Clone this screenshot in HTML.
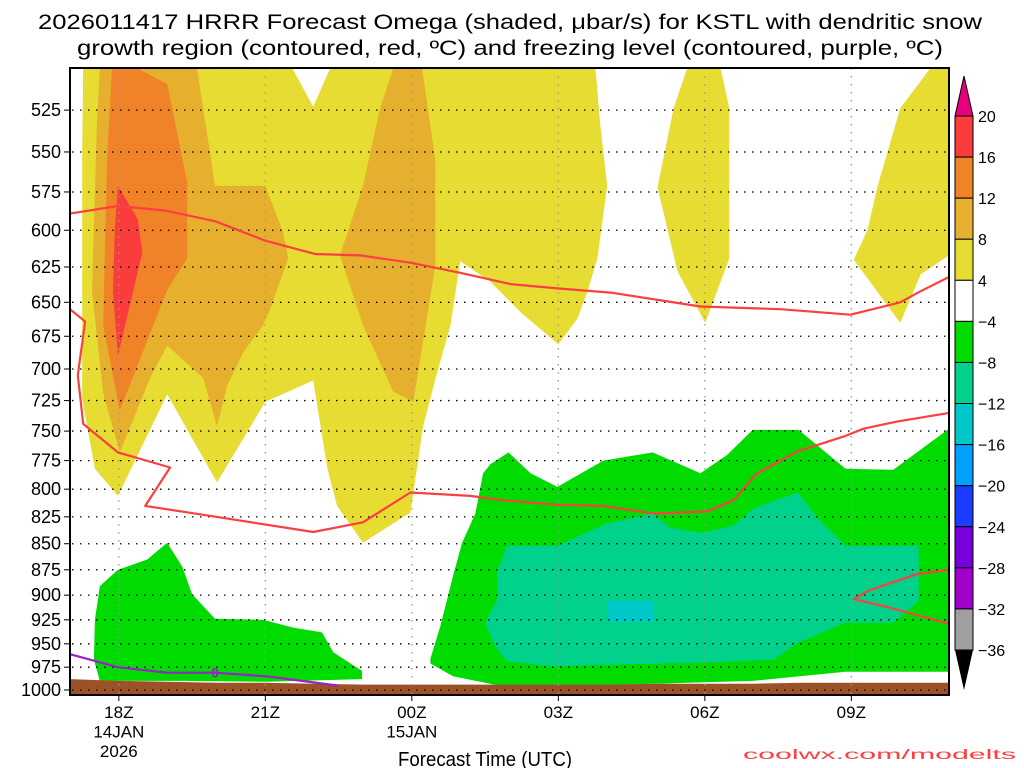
<!DOCTYPE html>
<html><head><meta charset="utf-8"><style>
html,body{margin:0;padding:0;background:#fff;width:1024px;height:768px;overflow:hidden}
svg{display:block;font-family:"Liberation Sans",sans-serif}
</style></head><body>
<svg id="chart" width="1024" height="768" viewBox="0 0 1024 768" xmlns="http://www.w3.org/2000/svg">
<g id="title">
<text x="510" y="29" text-anchor="middle" font-size="21" textLength="944" lengthAdjust="spacingAndGlyphs">2026011417 HRRR Forecast Omega (shaded, μbar/s) for KSTL with dendritic snow</text>
<text x="510" y="55" text-anchor="middle" font-size="21" textLength="866" lengthAdjust="spacingAndGlyphs">growth region (contoured, red, ºC) and freezing level (contoured, purple, ºC)</text>
</g>
<g id="fills"></g><g id="grid"></g><g id="lines"></g><g id="axes"></g><g id="cbar"></g>
<text x="485" y="766" text-anchor="middle" font-size="20" textLength="174" lengthAdjust="spacingAndGlyphs">Forecast Time (UTC)</text>
<text x="1016" y="759" text-anchor="end" font-size="14" fill="#ff4040" textLength="273" lengthAdjust="spacingAndGlyphs">coolwx.com/modelts</text>
</svg>
<script>
const NS="http://www.w3.org/2000/svg";
const H0=17,H1=35,X0=70,X1=949,Y0=68,Y1=695,P0=501,P1=1005.6;
const levels=[525,550,575,600,625,650,675,700,725,750,775,800,825,850,875,900,925,950,975,1000];
const xTickHours=[18,21,24,27,30,33];
const xTickLabels=[["18Z","14JAN","2026"],["21Z"],["00Z","15JAN"],["03Z"],["06Z"],["09Z"]];
const cbarLabels=["20","16","12","8","4","−4","−8","−12","−16","−20","−24","−28","−32","−36"];
const cbarColors=["#fa3c3c","#f08228","#e6af2d","#e6dc32","#ffffff","#00dc00","#00d28c","#00c8c8","#00a0ff","#1e3cff","#7800dc","#a000c8","#a0a0a0"];
// shaded omega regions: [hour, pressure]
const yellowMain=[[17.27,500],[21.55,500],[21.98,523],[22.33,500],[27.76,500],[27.86,534],[28.0,571],[27.8,619],[27.6,642],[27.39,662],[27.0,681],[26.22,657],[25.6,635],[24.99,621],[24.79,667],[24.48,708],[24.23,746],[23.97,821],[23.0,849],[22.47,815],[22.27,782],[21.98,709],[21.0,726],[20.01,794],[18.99,720],[17.98,806],[17.51,782],[17.25,724],[17.25,548]];
const yellow06=[[29.64,500],[30.32,500],[30.5,524],[30.5,619],[30.01,665],[29.44,628],[29.03,572],[29.36,524]];
const yellowRight=[[34.62,500],[35,500],[35,617],[34.42,630],[34.0,665],[33.05,620],[33.33,600],[33.54,571],[34.0,524]];
const lorangeLeft=[[17.61,500],[19.6,500],[19.97,571],[21.0,571],[21.36,601],[21.47,619],[21.1,655],[20.95,667],[20.55,687],[20.22,713],[20.01,746],[19.73,707],[18.99,682],[18.64,707],[18.02,768],[17.68,719],[17.45,642],[17.55,534]];
const lorange00=[[23.62,500],[24.21,500],[24.48,555],[24.48,624],[24.03,726],[23.62,718],[23.0,667],[22.53,617],[23.0,571],[23.35,524]];
const orangeCore=[[17.86,500],[18.37,500],[18.99,510],[19.4,569],[19.4,619],[18.99,641],[18.02,733],[17.68,667],[17.76,555]];
const redCore=[[17.98,571],[18.39,593],[18.48,615],[17.98,690],[17.88,642],[17.92,598]];
const greenLeft=[[17.51,925],[17.61,891],[17.98,875],[18.58,865],[18.99,849],[19.3,872],[19.5,899],[19.97,924],[20.95,925],[21.57,933],[22.16,938],[22.39,959],[22.98,979],[22.98,988],[21.04,991],[19.32,990],[17.61,990],[17.49,967]];
const greenRight=[[24.38,966],[24.58,932],[24.85,880],[25.03,849],[25.3,822],[25.46,786],[25.61,778],[25.98,768],[26.43,786],[26.98,798],[27.92,775],[28.93,768],[29.91,786],[30.46,770],[30.98,749],[31.92,749],[32.88,782],[33.86,783],[35,748],[35,980],[32.88,980],[30.99,990],[28.27,994],[26.9,996],[25.87,996],[24.85,985],[24.38,971]];
const tealRight=[[25.95,852],[26.98,852],[28.0,831],[28.93,822],[29.3,835],[29.95,840],[30.59,833],[31.0,817],[31.9,803],[32.38,830],[32.88,852],[34.38,852],[34.38,906],[33.86,928],[32.88,928],[31.9,949],[31.41,967],[29.95,970],[28.27,972],[26.9,974],[25.95,969],[25.71,953],[25.5,928],[25.75,904],[25.75,877]];
const cyanSpot=[[28.02,906],[28.95,906],[28.95,927],[28.02,927]];
// contour lines
const dgzTop=[[17,589],[17.98,584],[18.95,587],[19.97,594],[21.0,607],[22.02,616],[22.94,617],[23.97,622],[24.99,629],[26.02,637],[26.98,640],[28.07,643],[29.91,653],[31.55,655],[32.98,659],[34.0,650],[34.42,642],[35,632]];
const dgzBottom=[[17,655],[17.31,664],[17.16,705],[17.27,744],[17.98,768],[19.05,781],[18.54,815],[20.01,825],[21.98,839],[23.0,830],[23.97,803],[25.2,806],[25.87,810],[26.98,814],[27.92,815],[28.95,822],[30.05,820],[30.59,810],[31.04,787],[31.9,767],[32.88,754],[33.25,748],[33.95,742],[35,735]];
const dgzRight=[[35,875],[34.36,879],[33.86,887],[33.33,896],[33.05,904],[33.74,912],[35,929]];
const freezing=[[17,961],[17.98,975],[18.99,981],[19.97,981],[21.04,985],[22.47,995]];
const groundHours=[17,18,19,20,21,22,23,24,25,26,27,28,29,30,31,32,33,34,35];
const groundP=[988,990,991,992,992,993,994,994,994,994,994,994,993,993,993,992,992,992,992];

function xs(h){return X0+(h-H0)/(H1-H0)*(X1-X0);}
function ys(p){return Y0+(Math.log(p)-Math.log(P0))/(Math.log(P1)-Math.log(P0))*(Y1-Y0);}
function mk(tag,attrs,parent){const e=document.createElementNS(NS,tag);for(const k in attrs)e.setAttribute(k,attrs[k]);parent.appendChild(e);return e;}
function pts(a){return a.map(d=>xs(d[0]).toFixed(1)+","+Math.max(Y0,ys(d[1])).toFixed(1)).join(" ");}
const fills=document.getElementById("fills"),grid=document.getElementById("grid"),lines=document.getElementById("lines"),axes=document.getElementById("axes"),cbar=document.getElementById("cbar");

function region(a,color,name){const e=mk("polygon",{points:pts(a),fill:color},fills);

}
region(yellowMain,"#e6dc32","omega-4-8-main");
region(yellow06,"#e6dc32","omega-4-8-06z");
region(yellowRight,"#e6dc32","omega-4-8-right");
region(lorangeLeft,"#e6af2d","omega-8-12-left");
region(lorange00,"#e6af2d","omega-8-12-00z");
region(orangeCore,"#f08228","omega-12-16-core");
region(redCore,"#fa3c3c","omega-16-20-core");
region(greenLeft,"#00dc00","omega-neg4-neg8-left");
region(greenRight,"#00dc00","omega-neg4-neg8-right");
region(tealRight,"#00d28c","omega-neg8-neg12");
region(cyanSpot,"#00c8c8","omega-neg12-neg16");
// ground
const gp=groundHours.map((h,i)=>[h,groundP[i]]);
const gpts=pts(gp)+" "+X1+","+Y1+" "+X0+","+Y1;
const g=mk("polygon",{points:gpts,fill:"#9c5229"},fills);



// grid
levels.forEach(p=>{const y=ys(p);
const l=mk("line",{x1:X0+2,x2:X1,y1:y,y2:y,stroke:"#000","stroke-width":1.3,"stroke-dasharray":"1.5 6.5"},grid);


const t=mk("line",{x1:X0-6,x2:X0,y1:y,y2:y,stroke:"#000","stroke-width":1},axes);


const tx=mk("text",{x:X0-9,y:y+6,"text-anchor":"end","font-size":18},axes);tx.textContent=p;

});
xTickHours.forEach((h,i)=>{const x=xs(h);
const l=mk("line",{x1:x,x2:x,y1:Y0,y2:Y1,stroke:"#999","stroke-width":1.3,"stroke-dasharray":"1.5 6.5"},grid);


const t=mk("line",{x1:x,x2:x,y1:Y1,y2:Y1+6,stroke:"#000","stroke-width":1},axes);


xTickLabels[i].forEach((s,j)=>{const tx=mk("text",{x:x,y:718+j*19.5,"text-anchor":"middle","font-size":17},axes);tx.textContent=s;

});});

function cline(a,color,w,name){const e=mk("polyline",{points:pts(a),fill:"none",stroke:color,"stroke-width":w,"stroke-linejoin":"round"},lines);

}
cline(dgzTop,"#fa4040",2.2,"dgz-contour-top");
cline(dgzBottom,"#fa4040",2.2,"dgz-contour-bottom");
cline(dgzRight,"#fa4040",2.2,"dgz-contour-right");
cline(freezing,"#9a20c8",2.2,"freezing-level-contour");
const fl=mk("text",{x:xs(freezing[3][0]),y:ys(freezing[3][1])+5,"text-anchor":"middle","font-size":14,fill:"#9a20c8","font-weight":"bold"},lines);fl.textContent="0";



const border=mk("rect",{x:X0,y:Y0,width:X1-X0,height:Y1-Y0,fill:"none",stroke:"#000","stroke-width":2},axes);



// colorbar
const CX=955,CW=18,CT=116,CB=650,bh=(CB-CT)/cbarColors.length;
const tri=mk("polygon",{points:`${CX},${CT} ${CX+CW},${CT} ${CX+CW/2},${CT-40}`,fill:"#e6007e",stroke:"#000","stroke-width":1},cbar);


const tri2=mk("polygon",{points:`${CX},${CB} ${CX+CW},${CB} ${CX+CW/2},${CB+40}`,fill:"#000"},cbar);


cbarColors.forEach((c,i)=>{const r=mk("rect",{x:CX,y:CT+i*bh,width:CW,height:bh,fill:c,stroke:"#000","stroke-width":1},cbar);

});
cbarLabels.forEach((s,i)=>{const t=mk("text",{x:978,y:CT+i*bh+6,"font-size":16},cbar);t.textContent=s;

});
</script>
</body></html>
